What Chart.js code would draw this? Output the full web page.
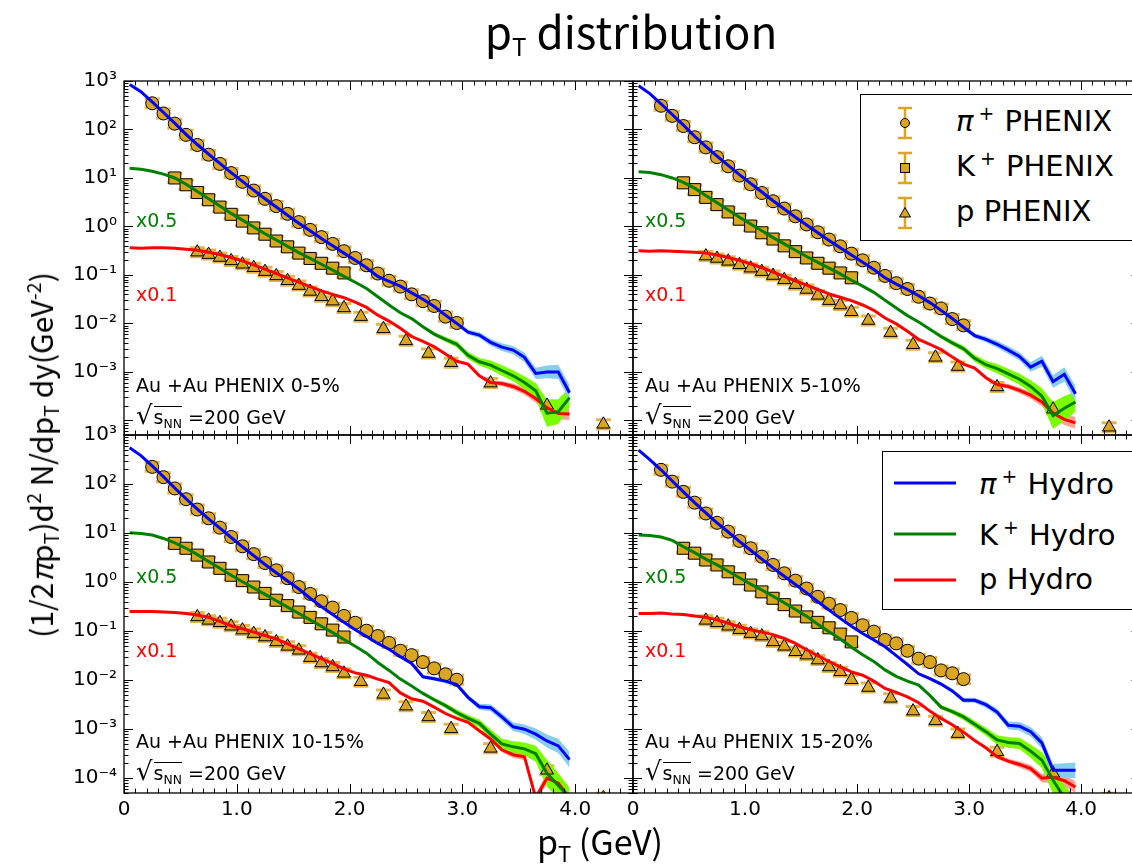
<!DOCTYPE html>
<html lang="en">
<head>
<meta charset="UTF-8">
<title>pT distribution</title>
<script src="https://cdn.jsdelivr.net/npm/chart.js"></script>
<style>
  html, body { margin: 0; padding: 0; background: #fff; overflow: hidden; }
  #page { position: relative; width: 1132px; height: 868px; overflow: hidden; font-family: "DejaVu Sans", sans-serif; color: #000; }
  #page canvas { position: absolute; left: 0; top: 0; }
  .t { position: absolute; white-space: nowrap; line-height: 1; }
  .ann { font-size: 19px; }
  .big { font-family: "Noto Sans CJK JP", "DejaVu Sans", sans-serif; }
  .rt { display: inline-block; border-top: 1.5px solid #000; line-height: 1; padding-top: 1px; margin-left: 1px; }
  sub { font-size: 65%; vertical-align: -0.3em; line-height: 0; }
  sup { font-size: 65%; vertical-align: 0.6em; line-height: 0; }
  .legend { position: absolute; border: 1.3px solid #000; background: #fff; }
  .lrow { position: absolute; font-size: 29px; line-height: 1; white-space: nowrap; }
  .lrow sup { margin: 0 1px 0 5px; }
  .lsym { position: absolute; }
</style>
</head>
<body>
<div id="page">
  <canvas id="c_tl" width="1150" height="868"></canvas>
  <canvas id="c_tr" width="1150" height="868"></canvas>
  <canvas id="c_bl" width="1150" height="868"></canvas>
  <canvas id="c_br" width="1150" height="868"></canvas>

  <div class="t big" style="left:631px; top:8px; font-size:44px; transform:translateX(-50%);">p<sub style="font-size:55%">T</sub> distribution</div>
  <div class="t big" style="left:40px; top:455px; font-size:30px; transform:translate(-50%,-50%) rotate(-90deg);">(1/2<i>π</i>p<sub>T</sub>)d<sup>2</sup> N/dp<sub>T</sub> dy(GeV<sup>-2</sup>)</div>
  <div class="t big" style="left:600px; top:824px; font-size:34px; transform:translateX(-50%);">p<sub>T</sub> (GeV)</div>

  <!-- data legend, top right panel -->
  <div class="legend" style="left:860px; top:94px; width:271px; height:145px;">
    <svg class="lsym" style="left:34px; top:11px;" width="20" height="34"><path d="M10 2V32M3 2H17M3 32H17" stroke="#daa520" stroke-width="2.5"/><circle cx="10" cy="17" r="4.5" fill="#daa520" stroke="#000"/></svg>
    <svg class="lsym" style="left:34px; top:56px;" width="20" height="34"><path d="M10 2V32M3 2H17M3 32H17" stroke="#daa520" stroke-width="2.5"/><rect x="5.5" y="12.5" width="9" height="9" fill="#daa520" stroke="#000"/></svg>
    <svg class="lsym" style="left:34px; top:101px;" width="20" height="34"><path d="M10 2V32M3 2H17M3 32H17" stroke="#daa520" stroke-width="2.5"/><path d="M10 11.5L15.5 21H4.5Z" fill="#daa520" stroke="#000"/></svg>
    <div class="lrow" style="left:95px; top:12px;"><i>π</i><sup>+</sup> PHENIX</div>
    <div class="lrow" style="left:95px; top:57px;">K<sup>+</sup> PHENIX</div>
    <div class="lrow" style="left:95px; top:102px;">p PHENIX</div>
  </div>

  <!-- hydro legend, bottom right panel -->
  <div class="legend" style="left:882px; top:451px; width:256px; height:157px;">
    <svg class="lsym" style="left:11px; top:29px;" width="62" height="4"><path d="M0 2H62" stroke="#0000ff" stroke-width="3"/></svg>
    <svg class="lsym" style="left:11px; top:80px;" width="62" height="4"><path d="M0 2H62" stroke="#008000" stroke-width="3"/></svg>
    <svg class="lsym" style="left:11px; top:126px;" width="62" height="4"><path d="M0 2H62" stroke="#ff0000" stroke-width="3"/></svg>
    <div class="lrow" style="left:96px; top:18px;"><i>π</i><sup>+</sup> Hydro</div>
    <div class="lrow" style="left:96px; top:69px;">K<sup>+</sup> Hydro</div>
    <div class="lrow" style="left:96px; top:113px;">p Hydro</div>
  </div>
</div>

<script>
// transverse momentum grids (GeV)
var ptGrid = [0.05,0.15,0.25,0.35,0.45,0.55,0.65,0.75,0.85,0.95,1.05,1.15,1.25,1.35,1.45,1.55,1.65,1.75,1.85,1.95,
              2.05,2.15,2.25,2.35,2.45,2.55,2.65,2.75,2.85,2.95,3.05,3.15,3.25,3.35,3.45,3.55,3.65,3.75,3.85,3.95];
var ptPi = [0.25,0.35,0.45,0.55,0.65,0.75,0.85,0.95,1.05,1.15,1.25,1.35,1.45,1.55,1.65,1.75,1.85,1.95,2.05,2.15,2.25,2.35,2.45,2.55,2.65,2.75,2.85,2.95];
var ptK = [0.45,0.55,0.65,0.75,0.85,0.95,1.05,1.15,1.25,1.35,1.45,1.55,1.65,1.75,1.85,1.95];
var ptP = [0.65,0.75,0.85,0.95,1.05,1.15,1.25,1.35,1.45,1.55,1.65,1.75,1.85,1.95,2.1,2.3,2.5,2.7,2.9,3.25,3.75,4.25];

// tick labels
var yTicksTop = [1e3,1e2,1e1,1,1e-1,1e-2,1e-3];
var yTicksBottom = [1e3,1e2,1e1,1,1e-1,1e-2,1e-3,1e-4];
var xTicks = [0,1,2,3,4];

// PHENIX 0-5%
var pi05 = [347,214,132,77.6,47.9,30.2,19.5,12.6,8.32,5.50,3.72,2.63,1.82,1.23,0.851,0.603,0.437,0.309,0.224,0.158,0.107,0.0759,0.0575,0.0398,0.0288,0.0229,0.0138,0.0102];
var k05 = [10.0,7.24,5.01,3.55,2.51,1.78,1.29,0.933,0.692,0.501,0.380,0.282,0.219,0.174,0.138,0.110];
var p05 = [0.295,0.263,0.229,0.195,0.166,0.141,0.117,0.0955,0.0759,0.0603,0.0457,0.0355,0.0288,0.0209,0.0138,0.00776,0.00437,0.00240,0.00155,0.000589,0.000204,0.0000832];
// hydro 0-5%
var piH05 = [851,603,372,224,135,79.4,49.0,30.9,20.0,12.9,8.51,5.62,3.72,2.51,1.70,1.17,0.813,0.562,0.398,0.282,0.200,0.141,0.0933,0.0741,0.0589,0.0427,0.0316,0.0224,0.0148,0.0100,0.00661,0.00575,0.00407,0.00324,0.00282,0.00200,0.000933,0.00100,0.00100,0.000372];
var kH05 = [15.8,15.1,13.8,12.0,10.0,7.41,5.25,3.72,2.63,1.86,1.35,0.977,0.708,0.525,0.389,0.288,0.219,0.166,0.126,0.0933,0.0708,0.0525,0.0355,0.0240,0.0166,0.0126,0.00851,0.00603,0.00468,0.00372,0.00219,0.00162,0.00138,0.00107,0.000832,0.000603,0.000407,0.000141,0.000151,0.000295];
var pH05 = [0.363,0.355,0.363,0.363,0.355,0.339,0.324,0.295,0.263,0.229,0.195,0.162,0.132,0.107,0.0871,0.0708,0.0575,0.0468,0.0398,0.0339,0.0275,0.0214,0.0148,0.0112,0.00794,0.00537,0.00427,0.00331,0.00234,0.00166,0.00145,0.000832,0.000603,0.000575,0.000501,0.000398,0.000282,0.000182,0.000138,0.000135];

// PHENIX 5-10%
var pi510 = [309,191,118,69.2,42.7,26.9,17.4,11.2,7.41,4.90,3.31,2.34,1.62,1.10,0.759,0.537,0.389,0.275,0.200,0.141,0.0955,0.0676,0.0513,0.0355,0.0257,0.0204,0.0123,0.00912];
var k510 = [7.94,5.75,3.98,2.82,1.99,1.41,1.02,0.741,0.550,0.398,0.302,0.224,0.174,0.138,0.110,0.0873];
var p510 = [0.245,0.219,0.191,0.162,0.138,0.117,0.0973,0.0795,0.0631,0.0502,0.0380,0.0295,0.0240,0.0174,0.0115,0.00646,0.00364,0.00200,0.00129,0.000490,0.000170,0.0000724];
// hydro 5-10%
var piH510 = [794,550,339,204,123,72.4,44.7,28.2,18.2,11.7,7.76,5.13,3.39,2.29,1.55,1.07,0.741,0.513,0.363,0.257,0.182,0.129,0.0871,0.0646,0.0501,0.0372,0.0269,0.0186,0.0126,0.00832,0.00562,0.00468,0.00372,0.00282,0.00209,0.00126,0.00166,0.000631,0.000891,0.000355];
var kH510 = [13.5,12.9,11.7,10.0,8.13,6.17,4.37,3.09,2.19,1.55,1.12,0.813,0.589,0.437,0.324,0.240,0.182,0.138,0.105,0.0776,0.0589,0.0437,0.0302,0.0209,0.0145,0.0107,0.00759,0.00537,0.00398,0.00302,0.00191,0.00141,0.00117,0.000912,0.000708,0.000501,0.000316,0.000126,0.000178,0.000240];
var pH510 = [0.316,0.309,0.316,0.309,0.302,0.295,0.282,0.257,0.229,0.200,0.170,0.141,0.115,0.0933,0.0759,0.0617,0.0501,0.0407,0.0347,0.0295,0.0240,0.0186,0.0129,0.00977,0.00692,0.00468,0.00372,0.00288,0.00204,0.00145,0.00120,0.000759,0.000550,0.000501,0.000417,0.000331,0.000240,0.000141,0.000105,0.0000891];

// PHENIX 10-15%
var pi1015 = [224,138,81.3,49.0,30.2,20.0,12.9,8.32,5.37,3.72,2.45,1.74,1.20,0.794,0.575,0.407,0.302,0.204,0.148,0.102,0.0794,0.0575,0.0398,0.0324,0.0234,0.0174,0.0132,0.0102];
var k1015 = [6.17,4.90,3.55,2.57,1.91,1.38,1.07,0.794,0.589,0.427,0.331,0.245,0.191,0.141,0.105,0.0759];
var p1015 = [0.195,0.166,0.148,0.126,0.105,0.0891,0.0759,0.0603,0.0490,0.0407,0.0288,0.0224,0.0186,0.0138,0.00933,0.00513,0.00295,0.00178,0.00102,0.000407,0.000145,0.0000398];
// hydro 10-15%
var piH1015 = [550,380,234,141,83.2,50.1,30.9,19.5,12.6,8.13,5.25,3.47,2.29,1.55,1.05,0.724,0.468,0.316,0.219,0.151,0.107,0.0776,0.0562,0.0427,0.0302,0.0219,0.0117,0.0107,0.00955,0.00813,0.00447,0.00288,0.00275,0.00178,0.00112,0.00100,0.000794,0.000575,0.000457,0.000240];
var kH1015 = [10.2,9.77,9.12,7.76,6.31,4.90,3.63,2.63,1.91,1.38,1.02,0.759,0.562,0.417,0.309,0.229,0.170,0.126,0.0933,0.0676,0.0490,0.0355,0.0229,0.0158,0.0105,0.00759,0.00537,0.00398,0.00302,0.00219,0.00166,0.00132,0.000794,0.000501,0.000437,0.000398,0.000316,0.000126,0.0000708,0.0000398];
var pH1015 = [0.251,0.251,0.251,0.245,0.240,0.229,0.214,0.191,0.158,0.129,0.112,0.0955,0.0813,0.0692,0.0550,0.0437,0.0347,0.0275,0.0219,0.0170,0.0141,0.0126,0.0105,0.00891,0.00550,0.00417,0.00372,0.00282,0.00209,0.00166,0.00138,0.000933,0.000631,0.000380,0.000302,0.000275,0.0000398,0.000100,0.0000794,0.0000398];

// PHENIX 15-20%
var pi1520 = [195,112,69.2,41.7,25.1,16.2,10.7,6.92,4.90,3.31,2.24,1.51,1.07,0.741,0.501,0.363,0.269,0.186,0.132,0.0977,0.0661,0.0562,0.0398,0.0275,0.0234,0.0158,0.0138,0.0105];
var k1520 = [4.90,3.89,2.82,2.24,1.62,1.17,0.871,0.631,0.468,0.347,0.257,0.195,0.151,0.117,0.0871,0.0603];
var p1520 = [0.166,0.148,0.126,0.107,0.0891,0.0794,0.0603,0.0490,0.0380,0.0324,0.0257,0.0186,0.0148,0.0102,0.00708,0.00427,0.00234,0.00148,0.000813,0.000347,0.000126,0.0000398];
// hydro 15-20%
var piH1520 = [490,316,195,115,69.2,41.7,25.7,16.2,10.5,6.76,4.47,2.95,1.95,1.32,0.891,0.603,0.398,0.269,0.182,0.126,0.0891,0.0661,0.0479,0.0316,0.0209,0.0135,0.0107,0.00832,0.00603,0.00389,0.00389,0.00316,0.00224,0.00120,0.00115,0.000891,0.000525,0.000145,0.000145,0.000145];
var kH1520 = [9.12,8.91,8.32,7.08,5.25,3.98,2.95,2.24,1.66,1.23,0.912,0.692,0.513,0.380,0.275,0.200,0.138,0.0977,0.0692,0.0468,0.0331,0.0240,0.0162,0.0120,0.00955,0.00794,0.00490,0.00282,0.00229,0.00178,0.00126,0.000891,0.000603,0.000537,0.000513,0.000355,0.000234,0.0000912,0.0000398,0.0000251];
var pH1520 = [0.229,0.229,0.234,0.224,0.219,0.204,0.191,0.170,0.145,0.123,0.107,0.0955,0.0851,0.0708,0.0562,0.0417,0.0316,0.0240,0.0186,0.0148,0.0126,0.00955,0.00676,0.00562,0.00457,0.00347,0.00234,0.00166,0.00123,0.000871,0.000589,0.000417,0.000275,0.000224,0.000191,0.000158,0.000100,0.000105,0.0000891,0.0000661];

// hydro uncertainty bands (multiplicative factor on ptGrid)
var bandPi = [1,1,1,1,1,1,1,1,1,1,1,1,1,1,1,1,1,1,1,1,1,1,1,1,1,1.06,1.08,1.1,1.1,1.12,1.12,1.15,1.18,1.2,1.22,1.25,1.3,1.35,1.4,1.45];
var bandK  = [1,1,1,1,1,1,1,1,1,1,1,1,1,1,1,1,1,1,1,1,1,1,1,1,1,1,1.06,1.1,1.12,1.15,1.18,1.2,1.25,1.28,1.3,1.35,1.45,1.9,1.8,1.6];
var bandP  = [1,1,1,1,1,1,1,1,1,1,1,1,1,1,1,1,1,1,1,1,1,1,1,1,1,1,1,1,1,1,1.06,1.08,1.1,1.12,1.15,1.18,1.22,1.28,1.3,1.32];

var GOLD = '#daa520';
var XPX = 112.8; // pixels per GeV

Chart.defaults.font.family = "'DejaVu Sans', sans-serif";
Chart.defaults.color = '#000';

var SUP = {'-': '\u207B', '0': '\u2070', '1': '\u00B9', '2': '\u00B2', '3': '\u00B3', '4': '\u2074', '5': '\u2075'};
function powLabel(v) {
    var e = Math.round(Math.log10(v));
    return '10' + String(e).split('').map(function(c) { return SUP[c]; }).join('');
}

function xy(xs, ys) {
    return xs.map(function(x, i) { return {x: x, y: ys[i]}; });
}

function band(vals, k) {
    var first = k.findIndex(function(f) { return f > 1; });
    var lo = [], hi = [];
    for (var i = Math.max(first - 1, 0); i < vals.length; i++) {
        lo.push({x: ptGrid[i], y: vals[i] / k[i]});
        hi.push({x: ptGrid[i], y: vals[i] * k[i]});
    }
    return [lo, hi];
}

// small error bar caps under the PHENIX markers
var errCaps = {
    id: 'errCaps',
    beforeDatasetsDraw: function(chart) {
        var ctx = chart.ctx, a = chart.chartArea;
        ctx.save();
        ctx.beginPath();
        ctx.rect(a.left, a.top, a.right - a.left, a.bottom - a.top);
        ctx.clip();
        ctx.strokeStyle = 'rgba(218,165,32,0.8)';
        ctx.lineWidth = 3;
        chart.data.datasets.forEach(function(ds, i) {
            if (!ds.caps) return;
            chart.getDatasetMeta(i).data.forEach(function(pt) {
                ctx.beginPath();
                ctx.moveTo(pt.x - 7.5, pt.y - 4.5); ctx.lineTo(pt.x + 7.5, pt.y - 4.5);
                ctx.moveTo(pt.x - 7.5, pt.y + 4.5); ctx.lineTo(pt.x + 7.5, pt.y + 4.5);
                ctx.stroke();
            });
        });
        ctx.restore();
    }
};

// box and inward ticks, matplotlib style
var frameTicks = {
    id: 'frameTicks',
    afterDatasetsDraw: function(chart) {
        var ctx = chart.ctx, a = chart.chartArea;
        var xs = chart.scales.x, ys = chart.scales.y;
        ctx.save();
        ctx.strokeStyle = '#000';
        ctx.lineWidth = 1;
        ctx.beginPath();
        for (var i = 0; i <= 50; i++) {
            var v = i / 10;
            if (v > xs.max + 1e-9) break;
            var px = Math.round(xs.getPixelForValue(v)) + 0.5;
            var len = i % 10 === 0 ? 9 : 4.5;
            ctx.moveTo(px, a.bottom); ctx.lineTo(px, a.bottom - len);
            ctx.moveTo(px, a.top); ctx.lineTo(px, a.top + len);
        }
        for (var e = -5; e <= 3; e++) {
            for (var m = 1; m <= 9; m++) {
                var val = m * Math.pow(10, e);
                if (val < ys.min * 0.999 || val > ys.max * 1.001) continue;
                var py = Math.round(ys.getPixelForValue(val)) + 0.5;
                var l2 = m === 1 ? 9 : 4.5;
                ctx.moveTo(a.left, py); ctx.lineTo(a.left + l2, py);
                ctx.moveTo(a.right, py); ctx.lineTo(a.right - l2, py);
            }
        }
        ctx.stroke();
        ctx.lineWidth = 1.3;
        ctx.strokeRect(a.left, a.top, a.right - a.left, a.bottom - a.top);
        ctx.restore();
    }
};

var panels = [
    {id: 'c_tl', cent: '0-5%',   pi: pi05,   k: k05,   p: p05,   piH: piH05,   kH: kH05,   pH: pH05,   box: [124, 81, 633, 435],  xLab: false, yTicks: yTicksTop},
    {id: 'c_tr', cent: '5-10%',  pi: pi510,  k: k510,  p: p510,  piH: piH510,  kH: kH510,  pH: pH510,  box: [633, 81, 1144, 435], xLab: false, yTicks: null},
    {id: 'c_bl', cent: '10-15%', pi: pi1015, k: k1015, p: p1015, piH: piH1015, kH: kH1015, pH: pH1015, box: [124, 435, 633, 793], xLab: true,  yTicks: yTicksBottom},
    {id: 'c_br', cent: '15-20%', pi: pi1520, k: k1520, p: p1520, piH: piH1520, kH: kH1520, pH: pH1520, box: [633, 435, 1144, 793], xLab: true,  yTicks: null}
];

function bandSets(vals, k, color) {
    var b = band(vals, k);
    return [
        {data: b[0], borderColor: 'transparent', borderWidth: 0, pointRadius: 0, fill: false, order: 5},
        {data: b[1], borderColor: 'transparent', borderWidth: 0, pointRadius: 0, fill: '-1', backgroundColor: color, order: 5}
    ];
}

function markerSet(xs, ys, style, r) {
    return {data: xy(xs, ys), showLine: false, pointStyle: style, pointRadius: r,
            pointBackgroundColor: GOLD, pointBorderColor: '#000', pointBorderWidth: 1, order: 3, caps: true};
}

function lineSet(ys, color) {
    return {data: xy(ptGrid, ys), borderColor: color, borderWidth: 3, pointRadius: 0, fill: false, tension: 0, order: 1};
}

panels.forEach(function(pn) {
    var L = pn.box[0], T = pn.box[1], R = pn.box[2], B = pn.box[3];
    var datasets = []
        .concat(bandSets(pn.piH, bandPi, '#87ceeb'))
        .concat(bandSets(pn.kH, bandK, '#7cfc00'))
        .concat(bandSets(pn.pH, bandP, 'rgba(250,128,114,0.75)'))
        .concat([
            markerSet(ptPi, pn.pi, 'circle', 6.5),
            markerSet(ptK, pn.k, 'rect', 8.5),
            markerSet(ptP, pn.p, 'triangle', 7.5),
            lineSet(pn.piH, '#0000ff'),
            lineSet(pn.kH, '#008000'),
            lineSet(pn.pH, '#ff0000')
        ]);

    new Chart(document.getElementById(pn.id), {
        type: 'line',
        data: {datasets: datasets},
        options: {
            responsive: false,
            animation: false,
            devicePixelRatio: 1,
            events: [],
            layout: {padding: {left: L - 60, top: T, right: 1150 - R, bottom: 868 - B - 40}},
            plugins: {legend: {display: false}, tooltip: {enabled: false}},
            scales: {
                x: {
                    type: 'linear', min: 0, max: (R - L) / XPX,
                    grid: {display: false, drawTicks: false}, border: {display: false},
                    afterBuildTicks: function(s) { s.ticks = xTicks.map(function(v) { return {value: v}; }); },
                    afterFit: function(s) { s.height = 40; },
                    ticks: {display: pn.xLab, autoSkip: false, maxRotation: 0, padding: 5,
                            font: {size: 20},
                            callback: function(v) { return v === 0 ? '0' : v.toFixed(1); }}
                },
                y: {
                    type: 'logarithmic', min: 5e-5, max: 1000,
                    grid: {display: false, drawTicks: false}, border: {display: false},
                    afterBuildTicks: function(s) { s.ticks = (pn.yTicks || yTicksTop).map(function(v) { return {value: v}; }); },
                    afterFit: function(s) { s.width = 60; },
                    ticks: {display: !!pn.yTicks, autoSkip: false, padding: 7,
                            font: {size: 20},
                            callback: function(v) { return powLabel(v); }}
                }
            }
        },
        plugins: [errCaps, frameTicks]
    });

    // panel annotations
    var page = document.getElementById('page');
    var lx = L + 12, dy = T === 81 ? 0 : 356;
    var notes = [
        ['x0.5', 211, 'color:#008000'],
        ['x0.1', 285, 'color:#ff0000'],
        ['Au +Au PHENIX ' + pn.cent, 376, ''],
        ['<span style="font-size:26px">\u221A</span><span class="rt">s<sub>NN</sub></span> =200 GeV', 402, '']
    ];
    notes.forEach(function(n) {
        var d = document.createElement('div');
        d.className = 't ann';
        d.style.cssText = 'left:' + lx + 'px; top:' + (n[1] + dy) + 'px;' + n[2];
        d.innerHTML = n[0];
        page.appendChild(d);
    });
});
</script>
</body>
</html>
